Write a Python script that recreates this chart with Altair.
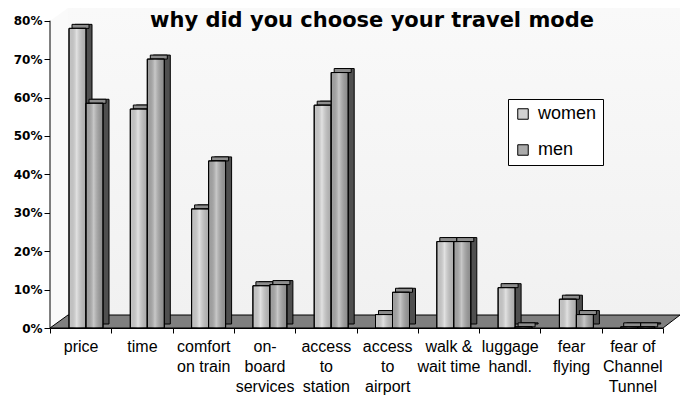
import altair as alt
import pandas as pd

# ---- data -------------------------------------------------------------
categories = [
    "price", "time", "comfort\non train", "on-\nboard\nservices",
    "access\nto\nstation", "access\nto\nairport", "walk &\nwait time",
    "luggage\nhandl.", "fear\nflying", "fear of\nChannel\nTunnel",
]
women = [0.78, 0.57, 0.31, 0.11, 0.58, 0.035, 0.225, 0.105, 0.075, 0.003]
men = [0.585, 0.70, 0.435, 0.113, 0.665, 0.093, 0.225, 0.003, 0.035, 0.003]
series = ["women", "men"]
series_colors = ["#d2d2d2", "#ababab"]
y_ticks = [0, 0.1, 0.2, 0.3, 0.4, 0.5, 0.6, 0.7, 0.8]
title_text = "why did you choose your travel mode"

rows = []
for cat, w, m in zip(categories, women, men):
    rows.append({"category": cat, "series": "women", "value": w})
    rows.append({"category": cat, "series": "men", "value": m})
df = pd.DataFrame(rows)
one = pd.DataFrame({"k": [0]})

# ---- geometry ---------------------------------------------------------
W, H = 613, 320
Y_MAX = 0.833
DX, DY = 6, -4          # depth of the 3-D columns
BAR_W = 17
STEP = W / len(categories)
shift = {"women": 27.5 - STEP / 2, "men": 44.5 - STEP / 2}

x_enc = alt.X(
    "category:N", sort=categories,
    scale=alt.Scale(paddingInner=0, paddingOuter=0),
    axis=alt.Axis(
        title=None, labelAngle=0, tickBand="extent",
        labelExpr="split(datum.label, '\\n')",
        labelFont="Liberation Sans", labelFontSize=16, labelLineHeight=20,
        labelPadding=5, labelColor="black", tickSize=5, tickColor="black",
        domainColor="black",
    ),
)
y_scale = alt.Scale(domain=[0, Y_MAX], nice=False, zero=True)
y_axis = alt.Axis(
    title=None, values=y_ticks, format=".0%", grid=False, domain=False,
    tickSize=6, tickColor="black", labelPadding=2, labelColor="black",
    labelFont="DejaVu Sans", labelFontSize=12, labelFontWeight="bold",
    labelOverlap=False,
)
y_enc = alt.Y("value:Q", scale=y_scale, axis=y_axis)

legend = alt.Legend(
    title=None, orient="none", legendX=458, legendY=91,
    fillColor="white", strokeColor="black", padding=6, rowPadding=18,
    symbolType="square", symbolSize=110, symbolStrokeColor="black",
    symbolStrokeWidth=1, labelFont="Liberation Sans", labelFontSize=18,
    labelColor="black", labelOffset=6,
)

shine = alt.Gradient(
    gradient="linear", x1=0, x2=1, y1=0, y2=0,
    stops=[
        alt.GradientStop(offset=0, color="rgba(0,0,0,0.04)"),
        alt.GradientStop(offset=0.45, color="rgba(255,255,255,0.35)"),
        alt.GradientStop(offset=1, color="rgba(0,0,0,0.18)"),
    ],
)

# ---- walls and floor ---------------------------------------------------
wall_fill = alt.Gradient(
    gradient="linear", x1=0, x2=0, y1=0, y2=1,
    stops=[alt.GradientStop(offset=0, color="#f9f9f9"),
           alt.GradientStop(offset=1, color="#f1f1f1")],
)
back_wall = alt.Chart(one).mark_point(
    shape="M 18 0 L 630 0 L 630 307 L 18 307 Z", size=4, filled=True,
    fill=wall_fill, strokeWidth=0, opacity=1,
).encode(x=alt.value(0), y=alt.value(0))
side_wall = alt.Chart(one).mark_point(
    shape="M 0 13 L 18 0 L 18 307 L 0 320 Z", size=4, filled=True,
    fill="#fafafa", strokeWidth=0, opacity=1,
).encode(x=alt.value(0), y=alt.value(0))
floor = alt.Chart(one).mark_point(
    shape="M 0 320 L 613 320 L 630 307 L 18 307 Z", size=4, filled=True,
    fill="#7f7f7f", stroke="black", strokeWidth=1, opacity=1,
).encode(x=alt.value(0), y=alt.value(0))
axis_line = alt.Chart(one).mark_rule(color="black", strokeWidth=1).encode(
    x=alt.value(0),
    y=alt.YDatum(0, scale=y_scale, axis=y_axis),
    y2=alt.Y2Datum(0.8),
)

# ---- 3-D columns -------------------------------------------------------
def column(name):
    base = alt.Chart(df).transform_filter(alt.datum.series == name)
    s = shift[name]
    side = base.mark_bar(
        width=BAR_W, xOffset=s + DX, yOffset=DY, y2Offset=DY,
        fill="#4f4f4f", stroke="black", strokeWidth=1,
    ).encode(x=x_enc, y=y_enc, y2=alt.datum(0))
    top = base.mark_bar(
        width=BAR_W, xOffset=s + DX / 2, yOffset=DY, y2Offset=0,
        fill="#8d8d8d", stroke="black", strokeWidth=1,
    ).encode(x=x_enc, y=y_enc, y2=alt.Y2("value:Q"))
    front = base.mark_bar(
        width=BAR_W, xOffset=s, stroke="black", strokeWidth=1,
    ).encode(
        x=x_enc, y=y_enc, y2=alt.datum(0),
        fill=alt.Fill("series:N", scale=alt.Scale(domain=series, range=series_colors),
                      legend=legend),
    )
    gloss = base.mark_bar(
        width=BAR_W, xOffset=s, fill=shine, stroke="black", strokeWidth=1,
    ).encode(x=x_enc, y=y_enc, y2=alt.datum(0))
    return [side, top, front, gloss]

title = alt.Chart(one).mark_text(
    text=title_text, font="DejaVu Sans", fontWeight="bold", fontSize=21,
    align="center", baseline="alphabetic", color="black",
).encode(x=alt.value(322), y=alt.value(19))

chart = alt.layer(
    back_wall, side_wall, floor, axis_line,
    *column("women"), *column("men"), title,
).properties(
    width=W, height=H,
    padding={"left": 50, "top": 8, "right": 21, "bottom": 68},
    autosize=alt.AutoSizeParams(type="none"),
    background="white",
).configure_view(stroke="transparent")

chart.save("out.html", embed_options={"renderer": "svg", "actions": False})
